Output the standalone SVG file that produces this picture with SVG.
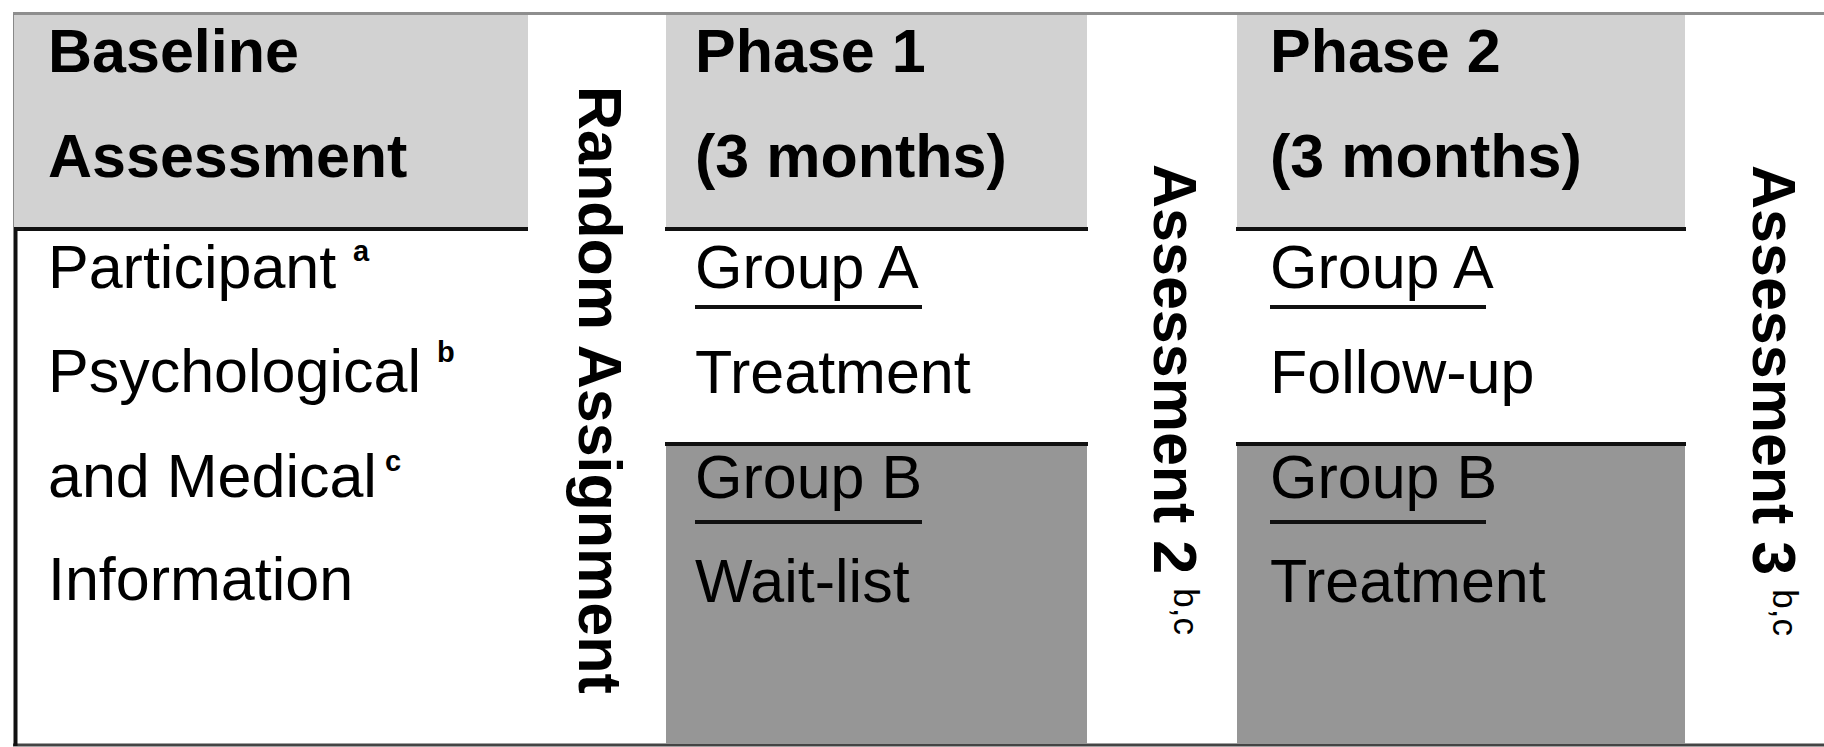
<svg xmlns="http://www.w3.org/2000/svg" width="1824" height="747" viewBox="0 0 1824 747">
<style>
.t{font-family:"Liberation Sans",Arial,sans-serif;font-size:61px;fill:#000}
.b{font-weight:bold}
.sup{font-family:"Liberation Sans",Arial,sans-serif;font-size:29px;font-weight:bold;fill:#000}
.rsup{font-size:35px;font-weight:normal}
.light{fill:#d2d2d2}
.dark{fill:#969696}
.rule{stroke:#111;stroke-width:4;fill:none}
.ul{stroke:#111;stroke-width:4;fill:none}
</style>
<rect width="1824" height="747" fill="#fff"/>
<g id="frame">
<line x1="13" y1="13.5" x2="1824" y2="13.5" stroke="#8e8e8e" stroke-width="3"/>
<line x1="13" y1="745" x2="1824" y2="745" stroke="#444" stroke-width="3"/>
<line x1="14" y1="14" x2="14" y2="228" stroke="#888" stroke-width="2"/>
<line x1="15.5" y1="228" x2="15.5" y2="746" stroke="#111" stroke-width="4"/>
</g>
<g id="baseline-assessment">
<rect class="light" x="14" y="15" width="514" height="214"/>
<line class="rule" x1="14" y1="229" x2="528" y2="229"/>
<text class="t b" x="48" y="72">Baseline</text>
<text class="t b" x="48" y="177">Assessment</text>
<text class="t" x="48" y="288">Participant</text>
<text class="sup" x="353" y="261">a</text>
<text class="t" x="48" y="392">Psychological</text>
<text class="sup" x="437" y="362">b</text>
<text class="t" x="48" y="497">and Medical</text>
<text class="sup" x="385" y="471">c</text>
<text class="t" x="48" y="600">Information</text>
</g>
<g id="random-assignment">
<text class="t b" transform="translate(579,86) rotate(90)">Random Assignment</text>
</g>
<g id="phase1">
<rect class="light" x="666" y="15" width="421" height="214"/>
<line class="rule" x1="665" y1="229" x2="1088" y2="229"/>
<text class="t b" x="695" y="72">Phase 1</text>
<text class="t b" x="695" y="177">(3 months)</text>
</g>
<g id="phase1-group-a">
<text class="t" x="695" y="288">Group A</text>
<line class="ul" x1="695" y1="307" x2="922" y2="307"/>
<text class="t" x="695" y="393">Treatment</text>
</g>
<g id="phase1-group-b">
<rect class="dark" x="666" y="444" width="421" height="300"/>
<line class="rule" x1="665" y1="444" x2="1088" y2="444"/>
<text class="t" x="695" y="498">Group B</text>
<line class="ul" x1="695" y1="522" x2="922" y2="522"/>
<text class="t" x="695" y="602">Wait-list</text>
</g>
<g id="assessment-2">
<text class="t b" transform="translate(1154,164) rotate(90)">Assessment 2<tspan class="rsup" dx="14" dy="-20">b,c</tspan></text>
</g>
<g id="phase2">
<rect class="light" x="1237" y="15" width="448" height="214"/>
<line class="rule" x1="1236" y1="229" x2="1686" y2="229"/>
<text class="t b" x="1270" y="72">Phase 2</text>
<text class="t b" x="1270" y="177">(3 months)</text>
</g>
<g id="phase2-group-a">
<text class="t" x="1270" y="288">Group A</text>
<line class="ul" x1="1270" y1="307" x2="1486" y2="307"/>
<text class="t" x="1270" y="393">Follow-up</text>
</g>
<g id="phase2-group-b">
<rect class="dark" x="1237" y="444" width="448" height="300"/>
<line class="rule" x1="1236" y1="444" x2="1686" y2="444"/>
<text class="t" x="1270" y="498">Group B</text>
<line class="ul" x1="1270" y1="522" x2="1486" y2="522"/>
<text class="t" x="1270" y="602">Treatment</text>
</g>
<g id="assessment-3">
<text class="t b" transform="translate(1753,165) rotate(90)">Assessment 3<tspan class="rsup" dx="14" dy="-20">b,c</tspan></text>
</g>
<g id="connectors"></g>
</svg>
